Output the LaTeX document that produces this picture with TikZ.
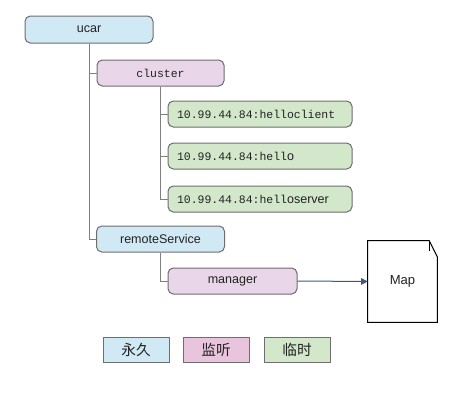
\documentclass[tikz,border=0pt]{standalone}
\usepackage{fontspec}
\setmainfont{Liberation Sans}
\setmonofont{Liberation Mono}
\newfontfamily\cjkfont{Noto Sans CJK SC}
\usetikzlibrary{arrows.meta}
\definecolor{cblue}{HTML}{D0E9F5}
\definecolor{cpink}{HTML}{E9D7E9}
\definecolor{cpinkl}{HTML}{E9C4DD}
\definecolor{cgreen}{HTML}{D3E8CB}
\definecolor{cborder}{HTML}{6E6E6E}
\definecolor{cline}{HTML}{808080}
\definecolor{carrow}{HTML}{3D5A80}
\definecolor{ctext}{HTML}{222222}
\begin{document}
\begin{tikzpicture}[x=0.75pt,y=-0.75pt,
  tbox/.style={draw=cborder, line width=0.75pt, rounded corners=4pt, inner sep=0pt,
    minimum height=19.5pt, text=ctext, font=\fontsize{9.4}{11}\selectfont},
  mono/.style={font=\fontsize{8.6}{11}\ttfamily},
  gbox/.style={tbox, fill=cgreen, mono, inner xsep=6.75pt, inner ysep=0pt,
    text width=124.5pt, align=left, minimum width=138pt},
  lbox/.style={draw=cborder, line width=0.75pt, inner sep=0pt, minimum width=49.5pt,
    minimum height=18.75pt, text=ctext, font=\fontsize{11}{13}\cjkfont},
  tline/.style={draw=cline, line width=0.75pt}]
\useasboundingbox (0,0) rectangle (461,400);
\node[tbox, fill=cblue, minimum width=96pt, minimum height=20.25pt] (ucar) at (89,29.5) {ucar};
\node[tbox, fill=cpink, minimum width=95.25pt, mono] (cluster) at (160.5,73) {cluster};
\node[gbox] (g1) at (260,114) {10.99.44.84:helloclient};
\node[gbox] (g2) at (260,156) {10.99.44.84:hell{\rmfamily\fontsize{9.4}{11}\selectfont o}};
\node[gbox] (g3) at (260,199) {10.99.44.84:hell{\rmfamily\fontsize{9.4}{11}\selectfont oserver}};
\node[tbox, fill=cblue, minimum width=96pt] (remote) at (160.5,239) {remoteService};
\node[tbox, fill=cpink, minimum width=96.75pt] (manager) at (232.5,281) {manager};
\node[minimum width=51.75pt, minimum height=60.75pt, inner sep=0pt, text=ctext,
  font=\fontsize{9.8}{11}\selectfont] (map) at (402.5,281.5) {Map};
\draw[line width=0.75pt, black, line join=miter]
  (map.south west) -- (map.north west) -- ([xshift=-6pt]map.north east)
  -- ([yshift=-12pt]map.north east) -- (map.south east) -- cycle;
\draw[line width=0.6pt, black] ([xshift=-6pt]map.north east) -- ([xshift=-6pt,yshift=-8pt]map.north east);
% tree lines
\draw[tline] (ucar.south) |- (cluster.west);
\draw[tline] (ucar.south) |- (remote.west);
\draw[tline] (cluster.south) |- (g1.west);
\draw[tline] (cluster.south) |- (g2.west);
\draw[tline] (cluster.south) |- (g3.west);
\draw[tline] (remote.south) |- (manager.west);
% arrow
\draw[draw=carrow, line width=0.75pt, -{Triangle[length=5pt,width=5pt]}] (manager.east) -- (map.west);
% legend
\node[lbox, fill=cblue] (l1) at (136,349.5) {永久};
\node[lbox, fill=cpinkl] (l2) at (216,349.5) {监听};
\node[lbox, fill=cgreen] (l3) at (297,349.5) {临时};
\end{tikzpicture}
\end{document}
